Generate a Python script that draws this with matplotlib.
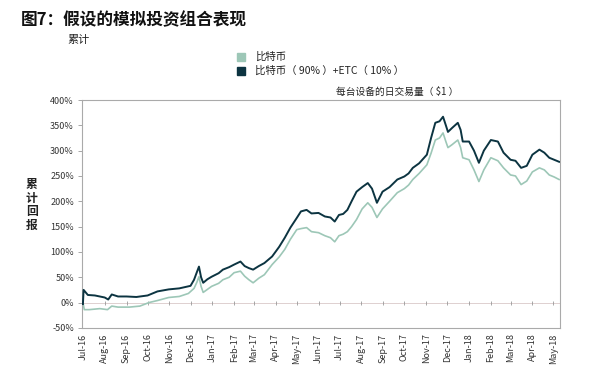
import matplotlib
matplotlib.use("Agg")
import matplotlib.pyplot as plt
import pandas as pd

plt.rcParams['font.family'] = ['Noto Sans CJK SC', 'DejaVu Sans']

# 比特币(90%)+ETC(10%) -- 深色
mix_dates = [
    "2016-07-01", "2016-07-02", "2016-07-08", "2016-07-18", "2016-08-01", "2016-08-06",
    "2016-08-11", "2016-08-20", "2016-09-01", "2016-09-15", "2016-10-01", "2016-10-15",
    "2016-10-31", "2016-11-15", "2016-12-01", "2016-12-06", "2016-12-10", "2016-12-13",
    "2016-12-16", "2016-12-19", "2016-12-25", "2016-12-31", "2017-01-10", "2017-01-16",
    "2017-01-25", "2017-02-01", "2017-02-10", "2017-02-16", "2017-02-22", "2017-02-28",
    "2017-03-08", "2017-03-16", "2017-03-27", "2017-04-06", "2017-04-14", "2017-04-22",
    "2017-05-01", "2017-05-07", "2017-05-15", "2017-05-22", "2017-06-01", "2017-06-10",
    "2017-06-18", "2017-06-24", "2017-06-30", "2017-07-06", "2017-07-12", "2017-07-18",
    "2017-07-25", "2017-08-02", "2017-08-10", "2017-08-16", "2017-08-23", "2017-08-31",
    "2017-09-10", "2017-09-21", "2017-10-01", "2017-10-07", "2017-10-13", "2017-10-22",
    "2017-11-02", "2017-11-08", "2017-11-14", "2017-11-20", "2017-11-25", "2017-11-29",
    "2017-12-02", "2017-12-08", "2017-12-16", "2017-12-20", "2017-12-23", "2018-01-01",
    "2018-01-08", "2018-01-15", "2018-01-22", "2018-02-01", "2018-02-11", "2018-02-19",
    "2018-03-01", "2018-03-08", "2018-03-16", "2018-03-24", "2018-04-01", "2018-04-11",
    "2018-04-18", "2018-04-25", "2018-05-02", "2018-05-09",
]
mix_vals = [
    -3, 25, 15, 14, 10, 6,
    16, 12, 12, 11, 14, 22,
    26, 28, 33, 45, 60, 71,
    50, 39, 46, 51, 58, 65,
    70, 75, 81, 72, 68, 65,
    72, 78, 91, 110, 128, 148,
    167, 180, 183, 176, 177, 170,
    168, 160, 173, 175, 183, 200,
    219, 228, 236, 225, 197, 219,
    228, 243, 249, 255, 266, 275,
    292, 325, 355, 358, 367, 350,
    337, 345, 355, 341, 318, 318,
    300, 276, 300, 321, 318, 296,
    282, 280, 266, 270, 292, 302,
    296, 286, 282, 278,
]

# 比特币 -- 浅色
btc_dates = [
    "2016-07-01", "2016-07-03", "2016-07-10", "2016-07-25", "2016-08-05", "2016-08-11",
    "2016-08-20", "2016-09-05", "2016-09-20", "2016-10-03", "2016-10-15", "2016-10-31",
    "2016-11-15", "2016-11-28", "2016-12-06", "2016-12-10", "2016-12-13", "2016-12-16",
    "2016-12-19", "2016-12-25", "2016-12-31", "2017-01-10", "2017-01-16", "2017-01-25",
    "2017-02-01", "2017-02-10", "2017-02-16", "2017-02-22", "2017-02-28", "2017-03-08",
    "2017-03-16", "2017-03-27", "2017-04-06", "2017-04-14", "2017-04-22", "2017-05-01",
    "2017-05-07", "2017-05-15", "2017-05-22", "2017-06-01", "2017-06-10", "2017-06-18",
    "2017-06-24", "2017-06-30", "2017-07-06", "2017-07-12", "2017-07-18", "2017-07-25",
    "2017-08-02", "2017-08-10", "2017-08-16", "2017-08-23", "2017-08-31", "2017-09-10",
    "2017-09-21", "2017-10-01", "2017-10-07", "2017-10-13", "2017-10-22", "2017-11-02",
    "2017-11-08", "2017-11-14", "2017-11-20", "2017-11-25", "2017-11-29", "2017-12-02",
    "2017-12-08", "2017-12-16", "2017-12-20", "2017-12-23", "2018-01-01", "2018-01-08",
    "2018-01-15", "2018-01-22", "2018-02-01", "2018-02-11", "2018-02-19", "2018-03-01",
    "2018-03-08", "2018-03-16", "2018-03-24", "2018-04-01", "2018-04-11", "2018-04-18",
    "2018-04-25", "2018-05-02", "2018-05-09",
]
btc_vals = [
    0, -14, -14, -12, -14, -7,
    -9, -9, -7, 0, 4, 10,
    12, 18, 28, 40, 51, 32,
    20, 26, 32, 38, 45, 50,
    59, 62, 52, 45, 39, 48,
    55, 75, 90, 105, 125, 144,
    146, 148, 140, 138, 132, 128,
    120, 132, 135, 140, 150, 164,
    185, 197, 188, 168, 185, 200,
    217, 225, 232, 243, 255, 272,
    295, 321, 325, 335, 318, 306,
    312, 321, 306, 286, 282, 262,
    239, 262, 286, 280, 266, 252,
    250, 233, 240, 258, 266, 262,
    252, 248, 243,
]

y_ticks = [-50, 0, 50, 100, 150, 200, 250, 300, 350, 400]
month_ticks = pd.date_range("2016-07-01", "2018-05-01", freq="MS")

c_btc = "#9dc7b7"
c_mix = "#0c3441"
c_text = "#333333"

fig = plt.figure(figsize=(6, 3.76), dpi=100)
ax = fig.add_axes([0.137, 0.128, 0.796, 0.606])

ax.axhline(0, color="#d9c9c9", lw=0.6, zorder=1)
ax.plot(month_ticks, [0] * len(month_ticks), linestyle="none", marker="|",
        markersize=3, color="#999999", markeredgewidth=0.6, zorder=1)

ax.plot(pd.to_datetime(btc_dates), btc_vals, color=c_btc, lw=1.2, zorder=2)
ax.plot(pd.to_datetime(mix_dates), mix_vals, color=c_mix, lw=1.4, zorder=3)

ax.set_xlim(pd.Timestamp("2016-06-30"), pd.Timestamp("2018-05-10"))
ax.set_ylim(-50, 400)
ax.set_yticks(y_ticks)
ax.set_yticklabels([f"{v}%" for v in y_ticks], fontsize=6.5, color=c_text)
ax.set_xticks(month_ticks)
ax.set_xticklabels([d.strftime("%b-%y") for d in month_ticks], rotation=90,
                   fontsize=6.5, color=c_text)
ax.tick_params(axis="x", length=0, pad=4)
ax.tick_params(axis="y", length=3, width=0.6, color="#999999", pad=3)
for s in ax.spines.values():
    s.set_color("#aaaaaa")
    s.set_linewidth(0.8)

fig.text(0.035, 0.945, "图7：假设的模拟投资组合表现", fontsize=12,
         fontweight="bold", color="#111111", va="center")
fig.text(0.113, 0.893, "累计", fontsize=8, color="#222222", va="center")

# 图例
fig.patches.append(plt.Rectangle((0.395, 0.837), 0.013, 0.022, color=c_btc,
                                 transform=fig.transFigure, figure=fig))
fig.patches.append(plt.Rectangle((0.395, 0.801), 0.013, 0.022, color=c_mix,
                                 transform=fig.transFigure, figure=fig))
fig.text(0.425, 0.848, "比特币", fontsize=7.5, color="#222222", va="center")
fig.text(0.425, 0.812, "比特币（ 90% ）+ETC（ 10% ）", fontsize=7.5,
         color="#222222", va="center")

fig.text(0.56, 0.755, "每台设备的日交易量（ $1 ）", fontsize=7,
         color="#222222", va="center")

fig.text(0.053, 0.455, "累\n计\n回\n报", fontsize=8.5, fontweight="bold",
         color="#222222", ha="center", va="center", linespacing=1.05)

fig.savefig("out.png", dpi=100, facecolor="white")
